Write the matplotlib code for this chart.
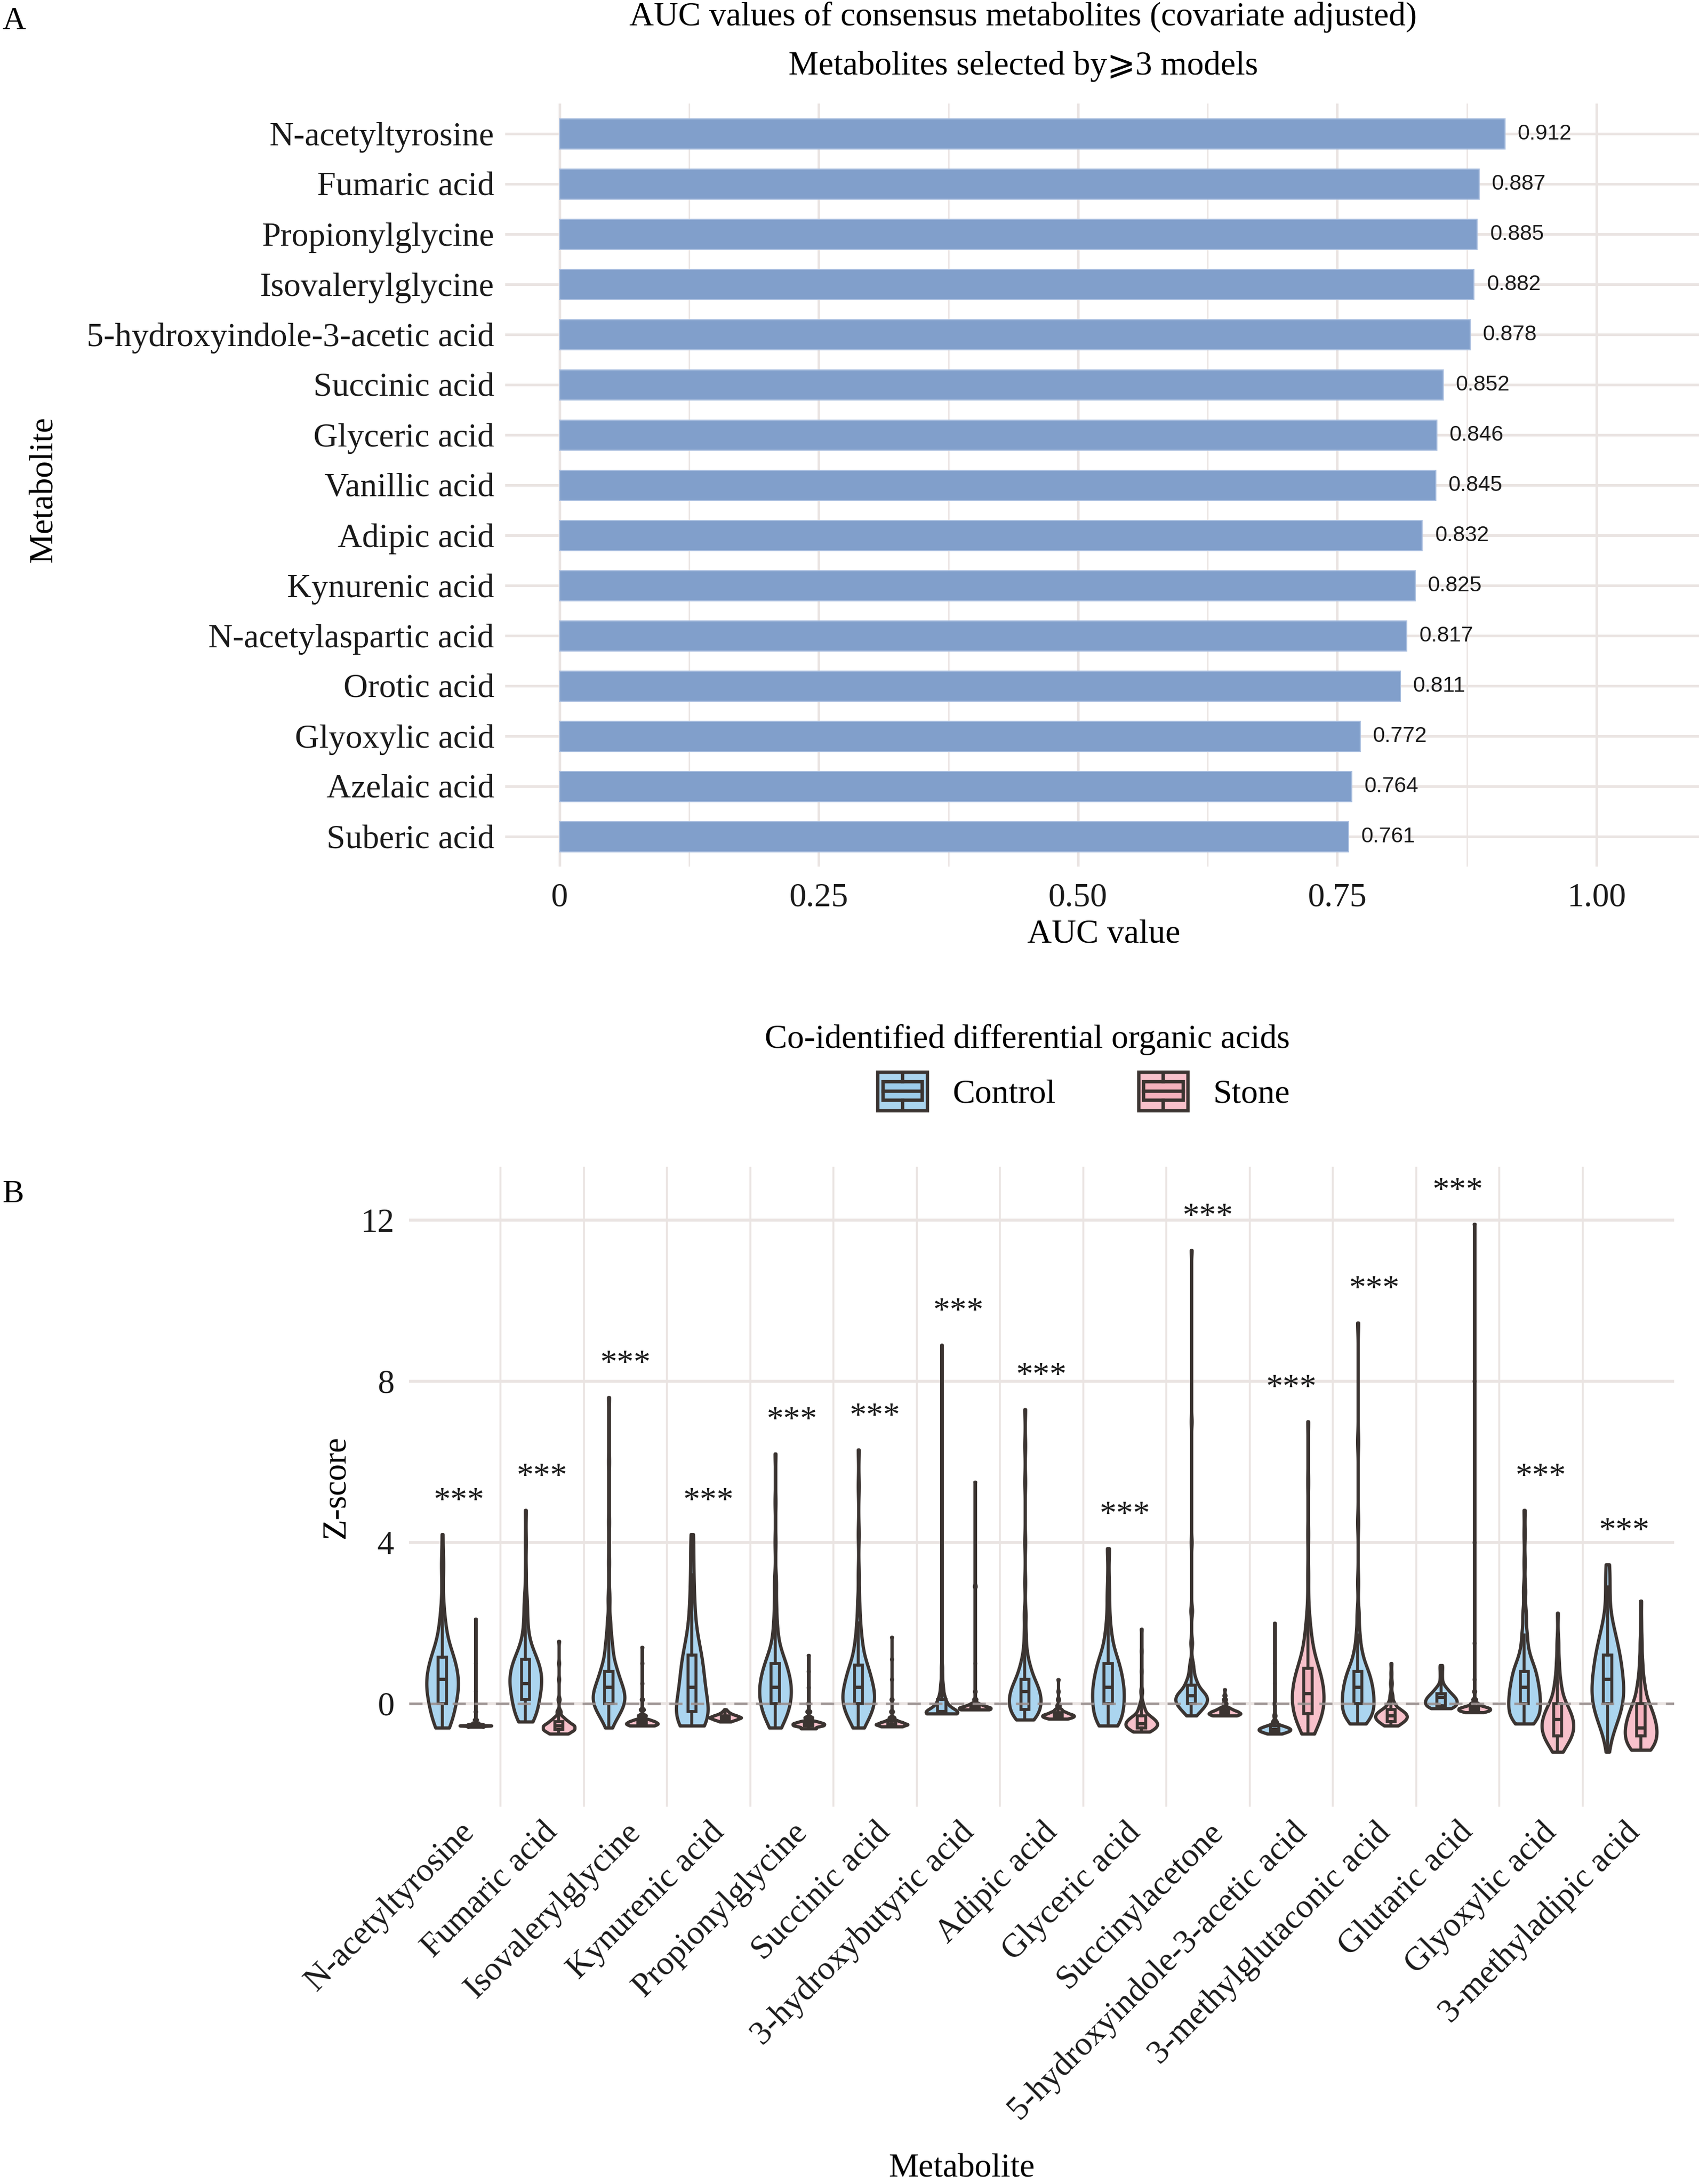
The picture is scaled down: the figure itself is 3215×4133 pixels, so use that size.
import numpy as np
import matplotlib
matplotlib.use("Agg")
import matplotlib.pyplot as plt
from matplotlib.patches import Rectangle
from matplotlib.lines import Line2D
from matplotlib.legend_handler import HandlerBase

plt.rcParams['font.family'] = ['Liberation Serif', 'DejaVu Sans', 'DejaVu Serif']

# ---------------- Panel A data ----------------
auc_metabolites = ["N-acetyltyrosine", "Fumaric acid", "Propionylglycine", "Isovalerylglycine",
                   "5-hydroxyindole-3-acetic acid", "Succinic acid", "Glyceric acid", "Vanillic acid",
                   "Adipic acid", "Kynurenic acid", "N-acetylaspartic acid", "Orotic acid",
                   "Glyoxylic acid", "Azelaic acid", "Suberic acid"]
auc_values = [0.912, 0.887, 0.885, 0.882, 0.878, 0.852, 0.846, 0.845, 0.832, 0.825,
              0.817, 0.811, 0.772, 0.764, 0.761]
auc_ticks = [0, 0.25, 0.50, 0.75, 1.00]
auc_ticklabels = ["0", "0.25", "0.50", "0.75", "1.00"]

# ---------------- Panel B data ----------------
metabolites = ["N-acetyltyrosine", "Fumaric acid", "Isovalerylglycine", "Kynurenic acid",
               "Propionylglycine", "Succinic acid", "3-hydroxybutyric acid", "Adipic acid",
               "Glyceric acid", "Succinylacetone", "5-hydroxyindole-3-acetic acid",
               "3-methylglutaconic acid", "Glutaric acid", "Glyoxylic acid", "3-methyladipic acid"]
groups = ["Control", "Stone"]
sig_labels = ["***"] * 15
z_ticks = [0, 4, 8, 12]

# Z-score values and how many samples sit at each value
ctrl_values = {
    "N-acetyltyrosine": [-0.6, -0.4, -0.2, 0.0, 0.2, 0.4, 0.6, 0.8, 1.0, 1.2, 1.4, 1.7, 2.0, 2.4, 3.0, 3.5, 4.2],
    "Fumaric acid": [-0.45, -0.3, -0.1, 0.1, 0.3, 0.5, 0.7, 0.9, 1.1, 1.3, 1.6, 2.0, 2.5, 3.2, 4.0, 4.8],
    "Isovalerylglycine": [-0.6, -0.4, -0.2, 0.0, 0.2, 0.4, 0.6, 0.8, 1.0, 1.3, 1.6, 2.0, 2.6, 3.5, 4.5, 6.0, 7.6],
    "Kynurenic acid": [-0.55, -0.4, -0.2, 0.0, 0.2, 0.4, 0.6, 0.8, 1.0, 1.2, 1.4, 1.7, 2.0, 2.4, 2.8, 3.2, 3.7, 4.2],
    "Propionylglycine": [-0.6, -0.4, -0.2, 0.0, 0.2, 0.4, 0.6, 0.8, 1.0, 1.2, 1.5, 1.9, 2.4, 3.0, 4.0, 5.0, 6.2],
    "Succinic acid": [-0.6, -0.4, -0.2, 0.0, 0.2, 0.4, 0.6, 0.8, 1.0, 1.3, 1.6, 2.0, 2.5, 3.2, 4.2, 5.4, 6.3],
    "3-hydroxybutyric acid": [-0.25, -0.2, -0.1, 0.0, 0.1, 0.2, 0.35, 0.5, 0.7, 0.9, 1.2, 2.0, 3.5, 5.0, 7.0, 8.9],
    "Adipic acid": [-0.4, -0.3, -0.15, 0.0, 0.15, 0.3, 0.45, 0.6, 0.8, 1.0, 1.3, 1.7, 2.2, 3.0, 4.0, 5.5, 6.4, 7.3],
    "Glyceric acid": [-0.55, -0.4, -0.2, 0.0, 0.2, 0.4, 0.6, 0.8, 1.0, 1.2, 1.5, 1.8, 2.2, 2.7, 3.2, 3.85],
    "Succinylacetone": [-0.3, -0.2, -0.1, 0.0, 0.1, 0.2, 0.3, 0.45, 0.6, 0.8, 1.0, 1.5, 2.3, 4.0, 7.0, 11.25],
    "5-hydroxyindole-3-acetic acid": [-0.75, -0.7, -0.65, -0.6, -0.55, -0.45, -0.3, 0.0, 0.5, 1.0, 2.0],
    "3-methylglutaconic acid": [-0.5, -0.35, -0.2, 0.0, 0.2, 0.4, 0.6, 0.8, 1.0, 1.3, 1.7, 2.2, 3.0, 4.5, 6.5, 9.45],
    "Glutaric acid": [-0.12, -0.05, 0.05, 0.15, 0.25, 0.35, 0.45, 0.6, 0.75, 0.9, 0.95],
    "Glyoxylic acid": [-0.5, -0.35, -0.2, 0.0, 0.2, 0.4, 0.6, 0.8, 1.0, 1.3, 1.7, 2.2, 2.8, 3.5, 4.2, 4.8],
    "3-methyladipic acid": [-1.2, -0.9, -0.6, -0.3, 0.0, 0.3, 0.6, 0.9, 1.2, 1.5, 1.8, 2.1, 2.5, 2.9, 3.2, 3.45],
}
ctrl_counts = {
    "N-acetyltyrosine": [6, 6, 7, 8, 9, 10, 10, 9, 8, 7, 5, 4, 3, 2, 1, 2, 1],
    "Fumaric acid": [5, 7, 8, 9, 10, 11, 11, 10, 8, 6, 4, 3, 3, 1, 1, 1],
    "Isovalerylglycine": [2, 6, 10, 14, 14, 12, 9, 7, 6, 5, 4, 3, 2, 1, 1, 1, 1],
    "Kynurenic acid": [10, 10, 9, 8, 7, 7, 6, 6, 6, 5, 5, 4, 3, 3, 2, 2, 2, 2],
    "Propionylglycine": [4, 7, 9, 10, 11, 11, 10, 9, 7, 6, 4, 3, 2, 2, 1, 1, 1],
    "Succinic acid": [4, 7, 10, 12, 12, 11, 9, 8, 7, 5, 4, 3, 2, 1, 1, 1, 1],
    "3-hydroxybutyric acid": [35, 20, 12, 9, 6, 5, 4, 3, 2, 2, 1, 1, 1, 1, 1, 1],
    "Adipic acid": [6, 9, 11, 12, 12, 11, 9, 8, 6, 5, 3, 2, 2, 1, 1, 1, 1, 1],
    "Glyceric acid": [7, 8, 9, 10, 10, 10, 9, 8, 7, 6, 4, 3, 2, 2, 1, 2],
    "Succinylacetone": [4, 7, 10, 13, 14, 13, 11, 8, 6, 4, 3, 2, 2, 1, 1, 1],
    "5-hydroxyindole-3-acetic acid": [10, 20, 25, 20, 12, 6, 3, 2, 1, 1, 1],
    "3-methylglutaconic acid": [5, 8, 11, 12, 12, 11, 10, 8, 6, 5, 3, 2, 1, 1, 1, 1],
    "Glutaric acid": [10, 18, 20, 18, 12, 8, 4, 2, 2, 2, 1],
    "Glyoxylic acid": [6, 8, 10, 11, 11, 10, 9, 8, 7, 5, 4, 3, 2, 1, 1, 1],
    "3-methyladipic acid": [1, 2, 5, 9, 11, 12, 11, 10, 9, 7, 5, 3, 2, 2, 1, 2],
}
stone_values = {
    "N-acetyltyrosine": [-0.58, -0.55, -0.52, -0.48, -0.4, -0.2, 0.3, 1.0, 2.1],
    "Fumaric acid": [-0.75, -0.65, -0.55, -0.45, -0.35, -0.2, 0.1, 0.6, 1.0, 1.55],
    "Isovalerylglycine": [-0.55, -0.5, -0.45, -0.4, -0.3, -0.15, 0.1, 0.5, 1.0, 1.4],
    "Kynurenic acid": [-0.45, -0.4, -0.35, -0.3, -0.25, -0.2, -0.15],
    "Propionylglycine": [-0.62, -0.55, -0.5, -0.45, -0.35, -0.2, 0.0, 0.4, 0.8, 1.2],
    "Succinic acid": [-0.57, -0.52, -0.47, -0.42, -0.35, -0.2, 0.1, 0.6, 1.1, 1.65],
    "3-hydroxybutyric acid": [-0.15, -0.1, -0.05, 0.0, 0.1, 0.3, 1.0, 2.9, 2.95, 5.5],
    "Adipic acid": [-0.38, -0.33, -0.28, -0.22, -0.15, -0.05, 0.1, 0.3, 0.6],
    "Glyceric acid": [-0.7, -0.6, -0.5, -0.4, -0.3, -0.15, 0.0, 0.3, 0.8, 1.3, 1.85],
    "Succinylacetone": [-0.3, -0.25, -0.2, -0.15, -0.1, 0.0, 0.1, 0.2, 0.35],
    "5-hydroxyindole-3-acetic acid": [-0.75, -0.5, -0.25, 0.0, 0.25, 0.5, 0.75, 1.0, 1.3, 1.6, 2.0, 2.5, 3.2, 4.2, 5.5, 7.0],
    "3-methylglutaconic acid": [-0.55, -0.45, -0.35, -0.25, -0.15, 0.0, 0.2, 0.5, 0.75, 1.0],
    "Glutaric acid": [-0.22, -0.17, -0.12, -0.07, 0.0, 0.1, 0.3, 0.6, 1.5, 4.0, 8.0, 11.9],
    "Glyoxylic acid": [-1.2, -1.0, -0.8, -0.6, -0.4, -0.2, 0.0, 0.3, 0.6, 1.0, 1.5, 2.25],
    "3-methyladipic acid": [-1.15, -1.0, -0.8, -0.6, -0.4, -0.2, 0.0, 0.3, 0.6, 1.0, 1.5, 2.0, 2.55],
}
stone_counts = {
    "N-acetyltyrosine": [20, 40, 20, 8, 4, 2, 1, 1, 1],
    "Fumaric acid": [15, 25, 25, 15, 8, 4, 2, 1, 1, 1],
    "Isovalerylglycine": [20, 25, 20, 12, 8, 4, 2, 1, 1, 1],
    "Kynurenic acid": [10, 20, 30, 20, 10, 5, 2],
    "Propionylglycine": [15, 25, 25, 15, 8, 4, 2, 1, 1, 1],
    "Succinic acid": [20, 30, 20, 10, 6, 3, 2, 1, 1, 1],
    "3-hydroxybutyric acid": [30, 30, 15, 8, 4, 2, 1, 2, 1, 1],
    "Adipic acid": [12, 20, 20, 12, 6, 3, 2, 1, 1],
    "Glyceric acid": [10, 18, 20, 16, 10, 6, 3, 2, 1, 1, 1],
    "Succinylacetone": [20, 25, 20, 12, 7, 4, 3, 2, 1],
    "5-hydroxyindole-3-acetic acid": [5, 9, 12, 13, 13, 12, 10, 8, 5, 4, 3, 1, 1, 1, 1, 1],
    "3-methylglutaconic acid": [8, 15, 20, 18, 12, 6, 3, 2, 1, 1],
    "Glutaric acid": [15, 25, 25, 15, 8, 4, 2, 1, 1, 1, 1, 1],
    "Glyoxylic acid": [4, 10, 14, 16, 15, 12, 9, 6, 4, 3, 2, 1],
    "3-methyladipic acid": [8, 12, 14, 14, 12, 10, 8, 6, 4, 3, 2, 1, 1],
}

# ---------------- style ----------------
W, H, DPI = 3216, 4133, 100
FS = 46
bar_color = "#819FCB"
grid_color = "#EAE4E2"
edge = "#3B3431"
ctrl_fill, ctrl_box = "#ABD5EF", "#9DCCEA"
stone_fill, stone_box = "#F8C1CB", "#F4B1BD"

fig = plt.figure(figsize=(W / DPI, H / DPI), dpi=DPI)
fig.patch.set_facecolor("white")


def fx(px):
    return px / W


def fy(py):
    return 1 - py / H


# ================= Panel A =================
axA = fig.add_axes([fx(956), fy(1640), fx(3222 - 956), (1640 - 196) / H])
ypos = np.arange(len(auc_metabolites))
bars = axA.barh(ypos, auc_values, height=0.6, color=bar_color, edgecolor="#A9BEDF",
                linewidth=1.5, zorder=3)
axA.bar_label(bars, labels=[f"{v:.3f}" for v in auc_values], padding=17,
              fontsize=29.5, family=["Liberation Sans", "DejaVu Sans"], color="#1A1A1A")
axA.set_xlim(-0.0525, 1.1025)
axA.set_ylim(len(auc_metabolites) - 0.4, -0.6)
axA.set_yticks(ypos, auc_metabolites)
axA.set_xticks(auc_ticks, auc_ticklabels)
axA.set_xticks([0.125, 0.375, 0.625, 0.875], minor=True)
axA.tick_params(axis="both", which="both", length=0, labelsize=FS, colors="#1A1A1A")
axA.tick_params(axis="y", pad=15)
axA.tick_params(axis="x", pad=22)
axA.grid(True, axis="x", which="major", color=grid_color, lw=3.4, zorder=0)
axA.grid(True, axis="x", which="minor", color=grid_color, lw=1.8, zorder=0)
axA.grid(True, axis="y", which="major", color=grid_color, lw=3.6, zorder=0)
axA.set_axisbelow(True)
for s in axA.spines.values():
    s.set_visible(False)
axA.set_xlabel("AUC value", fontsize=FS, labelpad=8)
fig.text(fx(84), fy(927), "Metabolite", rotation=90, ha="center", va="center", fontsize=FS)
fig.text(fx(1936), fy(32), "AUC values of consensus metabolites (covariate adjusted)",
         ha="center", va="center", fontsize=FS)
fig.text(fx(1936), fy(126), "Metabolites selected by\u2a7e3 models",
         ha="center", va="center", fontsize=FS,
         family=["Liberation Serif", "DejaVu Sans", "DejaVu Serif"])
fig.text(fx(4), fy(40), "A", ha="left", va="center", fontsize=44)

# ================= Panel B =================
axB = fig.add_axes([fx(774), fy(3419), fx(3168 - 774), (3419 - 2208) / H])
xpos = np.arange(1, len(metabolites) + 1)
axB.set_xlim(0.4, len(metabolites) + 0.6)
axB.set_ylim(-2.56, 13.32)


def nrd0_factor(kde):
    x = np.asarray(kde.dataset).ravel()
    n = x.size
    sd = np.std(x, ddof=1)
    q75, q25 = np.percentile(x, [75, 25])
    lo = min(sd, (q75 - q25) / 1.34)
    if lo <= 0:
        lo = sd if sd > 0 else 1.0
    bw = 0.9 * lo * n ** -0.2
    return bw / sd


group_specs = [(ctrl_values, ctrl_counts, ctrl_fill, ctrl_box, -0.2),
               (stone_values, stone_counts, stone_fill, stone_box, 0.2)]
group_max = np.full(len(metabolites), -np.inf)
for vals_d, cnt_d, fill, boxfill, off in group_specs:
    data = [np.repeat(vals_d[m], cnt_d[m]) for m in metabolites]
    group_max = np.maximum(group_max, [d.max() for d in data])
    pos = xpos + off
    parts = axB.violinplot(data, positions=pos, widths=0.38, showextrema=False,
                           points=600, bw_method=nrd0_factor)
    for body in parts["bodies"]:
        body.set_alpha(1)
        body.set_facecolor(fill)
        body.set_edgecolor(edge)
        body.set_linewidth(4.4)
        body.set_zorder(3)
    axB.boxplot(data, positions=pos, widths=0.1, patch_artist=True, showfliers=False,
                showcaps=False, whis=1.5, manage_ticks=False,
                boxprops=dict(facecolor=boxfill, edgecolor=edge, linewidth=4.0),
                medianprops=dict(color=edge, linewidth=4.5),
                whiskerprops=dict(color=edge, linewidth=4.0), zorder=4)

for xi, ymax, lab in zip(xpos, group_max, sig_labels):
    axB.text(xi, ymax + 0.6, lab, ha="center", va="baseline", fontsize=FS, color="#1A1A1A")

axB.axhline(0, color="#9A9190", lw=3.6, ls=(0, (5, 3.2)), alpha=0.9, zorder=5)
for xb in xpos[:-1] + 0.5:
    axB.axvline(xb, color=grid_color, lw=2.6, zorder=0)
axB.set_yticks(z_ticks, [str(t) for t in z_ticks])
axB.grid(True, axis="y", color=grid_color, lw=4.0, zorder=0)
axB.set_axisbelow(True)
axB.set_xticks(xpos)
axB.set_xticklabels(metabolites, rotation=45, ha="right", rotation_mode="anchor")
axB.tick_params(axis="both", length=0, labelsize=FS, colors="#1A1A1A")
axB.tick_params(axis="y", pad=20)
axB.tick_params(axis="x", pad=14)
for s in axB.spines.values():
    s.set_visible(False)
axB.set_ylabel("Z-score", fontsize=FS, labelpad=12)
fig.text(fx(1820), fy(4104), "Metabolite", ha="center", va="center", fontsize=FS)
fig.text(fx(4), fy(2260), "B", ha="left", va="center", fontsize=44)


# ---------------- legend ----------------
class BoxKeyHandler(HandlerBase):
    def __init__(self, fill, boxfill):
        super().__init__()
        self.fill = fill
        self.boxfill = boxfill

    def create_artists(self, legend, orig_handle, xdescent, ydescent, width, height,
                       fontsize, trans):
        x0, y0 = -xdescent, -ydescent
        lw = 4.6
        outer = Rectangle((x0, y0), width, height, facecolor=self.fill, edgecolor=edge,
                          lw=lw, transform=trans)
        bw = width * 0.8
        bx = x0 + (width - bw) / 2
        inner = Rectangle((bx, y0 + height * 0.27), bw, height * 0.48, facecolor=self.boxfill,
                          edgecolor=edge, lw=lw, transform=trans)
        med = Line2D([bx, bx + bw], [y0 + height * 0.51] * 2, color=edge, lw=lw, transform=trans)
        w1 = Line2D([x0 + width / 2] * 2, [y0 + height * 0.08, y0 + height * 0.27], color=edge,
                    lw=lw, transform=trans)
        w2 = Line2D([x0 + width / 2] * 2, [y0 + height * 0.75, y0 + height * 0.93], color=edge,
                    lw=lw, transform=trans)
        return [outer, inner, med, w1, w2]


h_ctrl = Rectangle((0, 0), 1, 1)
h_stone = Rectangle((0, 0), 1, 1)
leg = fig.legend([h_ctrl, h_stone], groups, loc="center",
                 bbox_to_anchor=(fx(1944), fy(2020)), ncol=2, frameon=False,
                 title="Co-identified differential organic acids", title_fontsize=FS,
                 fontsize=FS, handlelength=1.46, handleheight=1.39, handletextpad=0.74,
                 columnspacing=2.47, borderpad=0, alignment="right",
                 handler_map={h_ctrl: BoxKeyHandler(ctrl_fill, ctrl_box),
                              h_stone: BoxKeyHandler(stone_fill, stone_box)})

fig.savefig("out.png", dpi=DPI, facecolor="white")
